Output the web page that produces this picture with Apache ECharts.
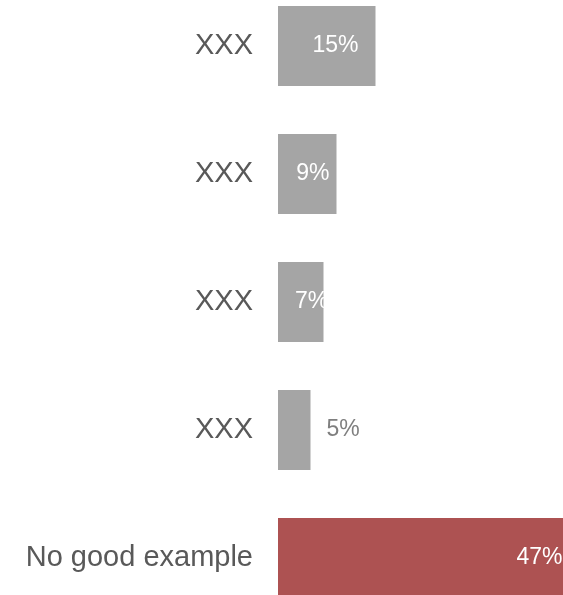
<!DOCTYPE html>
<html>
<head>
<meta charset="utf-8">
<script src="https://cdn.jsdelivr.net/npm/echarts@6/dist/echarts.min.js"></script>
<style>html,body{margin:0;padding:0;background:#fff}#c{width:563px;height:595px}</style>
</head>
<body>
<div id="c"></div>
<script>
var categories = ['XXX', 'XXX', 'XXX', 'XXX', 'No good example'];
var values = [15, 9, 7, 5, 47];
var barColors = ['#a5a5a5', '#a5a5a5', '#a5a5a5', '#a5a5a5', '#ad5252'];
var labelPos = ['insideRight', 'insideRight', 'insideLeft', 'right', 'insideRight'];
var labelOffsetX = [-12, -2, 12, 11, -16];
var labelColors = ['#ffffff', '#ffffff', '#ffffff', '#7f7f7f', '#ffffff'];

var chart = echarts.init(document.getElementById('c'), null, {renderer: 'canvas'});
var data = values.map(function (v, i) {
  return {
    value: v,
    itemStyle: {color: barColors[i]},
    label: {position: labelPos[i], offset: [labelOffsetX[i], 0], color: labelColors[i]}
  };
});
chart.setOption({
  animation: false,
  grid: {left: 278, right: -40, top: -18, bottom: -27, containLabel: false, outerBoundsMode: 'none'},
  xAxis: {type: 'value', min: 0, max: 50, show: false},
  yAxis: {
    type: 'category', data: categories, inverse: true,
    axisLine: {show: false}, axisTick: {show: false},
    axisLabel: {color: '#595959', fontSize: 29, fontFamily: 'Liberation Sans, Arial, sans-serif', margin: 25}
  },
  series: [{
    type: 'bar', data: data, barWidth: 80, clip: false,
    label: {show: true, formatter: '{c}%', fontSize: 23, fontFamily: 'Liberation Sans, Arial, sans-serif', distance: 5}
  }]
});
</script>
</body>
</html>
